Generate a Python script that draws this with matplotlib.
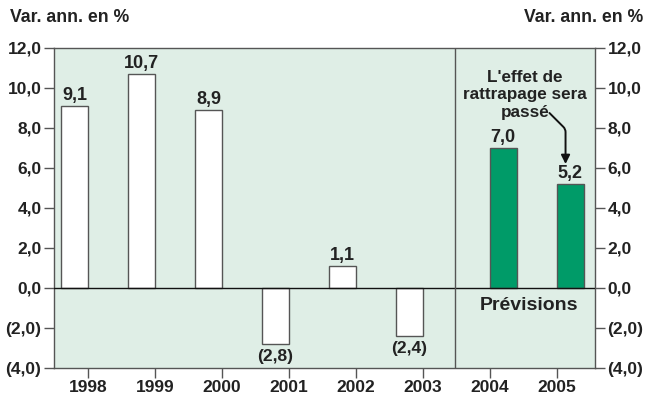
import matplotlib.pyplot as plt

plt.rcParams["font.family"] = ["Liberation Sans", "DejaVu Sans"]
plt.rcParams["font.weight"] = "bold"

years = [1998, 1999, 2000, 2001, 2002, 2003, 2004, 2005]
values = [9.1, 10.7, 8.9, -2.8, 1.1, -2.4, 7.0, 5.2]
labels = ["9,1", "10,7", "8,9", "(2,8)", "1,1", "(2,4)", "7,0", "5,2"]
forecast = [False, False, False, False, False, False, True, True]
yticks = [-4, -2, 0, 2, 4, 6, 8, 10, 12]
ytick_labels = ["(4,0)", "(2,0)", "0,0", "2,0", "4,0", "6,0", "8,0", "10,0", "12,0"]

BG = "#dfeee6"
GREEN = "#009b68"
EDGE = "#555555"
TXT = "#222222"

fig = plt.figure(figsize=(6.45, 3.96), dpi=100)
ax = fig.add_axes([54 / 645, 28 / 396, 541 / 645, 320 / 396])
ax.set_facecolor(BG)

# historic bars sit left of their tick, forecast bars right of it
widths = [0.4 if f else -0.4 for f in forecast]
colors = [GREEN if f else "white" for f in forecast]
ax.bar(years, values, width=widths, align="edge", color=colors,
       edgecolor=EDGE, linewidth=1.0, zorder=2)

for x, v, t, w in zip(years, values, labels, widths):
    cx = x + w / 2
    if v >= 0:
        ax.text(cx, v + 0.12, t, ha="center", va="bottom", fontsize=13,
                fontweight="bold", color=TXT)
    else:
        ax.text(cx, v - 0.25, t, ha="center", va="top", fontsize=12.5,
                fontweight="bold", color=TXT)

ax.axhline(0, color="#111111", linewidth=1.0, zorder=3)
ax.axvline(2003.48, color="#555555", linewidth=1.0, zorder=3)

ax.set_xlim(1997.49, 2005.57)
ax.set_ylim(-4, 12)
ax.set_xticks(years)
ax.set_xticklabels([str(y) for y in years], fontsize=12.5, fontweight="bold")
ax.set_yticks(yticks)
ax.set_yticklabels(ytick_labels, fontsize=12.5, fontweight="bold")
ax.tick_params(axis="both", direction="out", length=7, width=1, color="#555555",
               pad=2, labelcolor=TXT)
ax.tick_params(axis="x", pad=1.5)
ax.tick_params(axis="y", left=True, right=True, labelleft=True, labelright=True)
for s in ax.spines.values():
    s.set_color("#555555")
    s.set_linewidth(1.0)

ax.text(2004.59, -0.9, "Prévisions", ha="center", va="center", fontsize=14,
        fontweight="bold", color=TXT)
ax.text(2004.52, 9.65, "L'effet de\nrattrapage sera\npassé", ha="center", va="center",
        fontsize=12.3, fontweight="bold", color=TXT, linespacing=1.2)
ax.annotate("", xy=(2005.13, 6.2), xytext=(2004.89, 8.75),
            arrowprops=dict(arrowstyle="-|>", color="#111111", lw=1.4,
                            connectionstyle="angle,angleA=-45,angleB=90,rad=3",
                            shrinkA=0, shrinkB=0, mutation_scale=13))

fig.text(10 / 645, 1 - 18 / 396, "Var. ann. en %", ha="left", va="center",
         fontsize=12.7, fontweight="bold", color=TXT)
fig.text(643 / 645, 1 - 18 / 396, "Var. ann. en %", ha="right", va="center",
         fontsize=12.7, fontweight="bold", color=TXT)

fig.savefig("out.png", dpi=100)
